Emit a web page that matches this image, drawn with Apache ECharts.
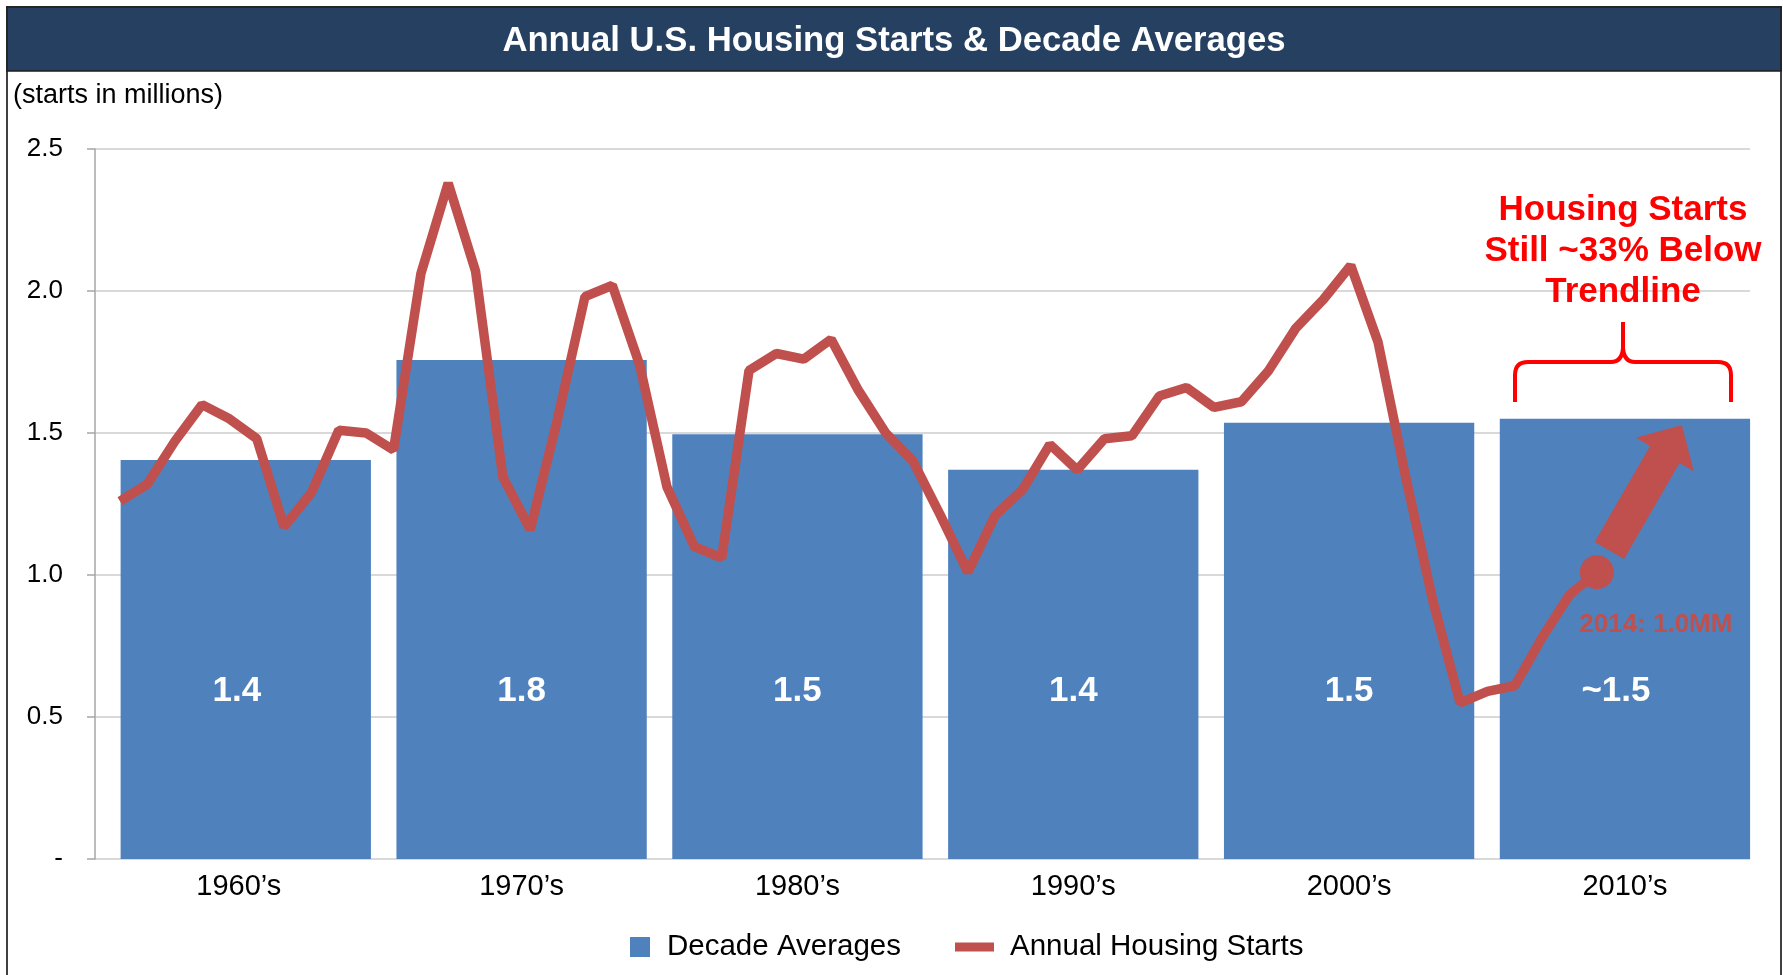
<!DOCTYPE html>
<html>
<head>
<meta charset="utf-8">
<title>Annual U.S. Housing Starts &amp; Decade Averages</title>
<script src="https://cdn.jsdelivr.net/npm/echarts@6/dist/echarts.min.js"></script>
<style>
  html, body { margin: 0; padding: 0; background: #fff; }
  #main { width: 1783px; height: 975px; }
</style>
</head>
<body>
<div id="main"></div>
<script>
// decade bars
var decades = ["1960\u2019s", "1970\u2019s", "1980\u2019s", "1990\u2019s", "2000\u2019s", "2010\u2019s"];
var decadeAvg = [1.405, 1.757, 1.496, 1.371, 1.536, 1.55];
var decadeLabels = ["1.4", "1.8", "1.5", "1.4", "1.5", "~1.5"];

// annual starts (millions)
var years = [1960, 1961, 1962, 1963, 1964, 1965, 1966, 1967, 1968, 1969,
             1970, 1971, 1972, 1973, 1974, 1975, 1976, 1977, 1978, 1979,
             1980, 1981, 1982, 1983, 1984, 1985, 1986, 1987, 1988, 1989,
             1990, 1991, 1992, 1993, 1994, 1995, 1996, 1997, 1998, 1999,
             2000, 2001, 2002, 2003, 2004, 2005, 2006, 2007, 2008, 2009,
             2010, 2011, 2012, 2013, 2014];
var annualStarts = [1.26, 1.32, 1.47, 1.60, 1.55, 1.48, 1.17, 1.29, 1.51, 1.50,
                    1.44, 2.06, 2.38, 2.07, 1.345, 1.16, 1.55, 1.98, 2.02, 1.74,
                    1.31, 1.10, 1.06, 1.72, 1.78, 1.76, 1.83, 1.65, 1.50, 1.40,
                    1.21, 1.01, 1.21, 1.30, 1.46, 1.37, 1.48, 1.49, 1.63, 1.66,
                    1.59, 1.61, 1.72, 1.87, 1.97, 2.09, 1.82, 1.35, 0.91, 0.55,
                    0.59, 0.61, 0.78, 0.93, 1.01];

var lastLabel = "2014: 1.0MM";

var FONT = "'Liberation Sans', Arial, Helvetica, sans-serif";
var BLUE = "#4F81BD", RED = "#C0504D";

var chart = echarts.init(document.getElementById("main"));

var linePts = years.map(function (y, i) { return [y, annualStarts[i]]; });
// first and last labels sit a little left of bar centre in the original
var barData = decadeAvg.map(function (v, i) {
  var off = (i === 0 || i === decadeAvg.length - 1) ? [-9, 0] : [0, 0];
  return { value: v, label: { offset: off } };
});
var catData = decades.map(function (d, i) {
  return i === 0 ? { value: d, textStyle: { padding: [0, 14, 0, 0] } } : d;
});

chart.setOption({
  animation: false,
  textStyle: { fontFamily: FONT },
  grid: [
    { left: 95, right: 33, top: 149, bottom: 116 },
    { left: 107.85, right: 20.15, top: 149, bottom: 116 }
  ],
  xAxis: [
    { type: "value", gridIndex: 0, min: 1959.086, max: 2019.6, show: false },
    {
      type: "category", gridIndex: 1, data: catData,
      axisLine: { show: false }, axisTick: { show: false },
      axisLabel: { fontSize: 29, color: "#000", margin: 13, fontFamily: FONT }
    }
  ],
  yAxis: [
    {
      type: "value", gridIndex: 0, min: 0, max: 2.5, interval: 0.5,
      axisLine: { show: true, lineStyle: { color: "#A6A6A6", width: 1.5 } },
      axisTick: { show: true, length: 8, lineStyle: { color: "#A6A6A6", width: 1.5 } },
      splitLine: { lineStyle: { color: "#D9D9D9", width: 2 } },
      axisLabel: {
        fontSize: 26, color: "#000", margin: 32, fontFamily: FONT,
        formatter: function (v) { return v === 0 ? "-" : v.toFixed(1); }
      }
    },
    { type: "value", gridIndex: 1, min: 0, max: 2.5, show: false }
  ],
  legend: [
    {
      data: [{ name: "Decade Averages", icon: "rect" }],
      left: 630, top: 932, padding: 0, itemWidth: 20, itemHeight: 20,
      textStyle: { fontSize: 29.5, color: "#000", fontFamily: FONT, padding: [0, 0, 0, 12] }
    },
    {
      data: [{ name: "Annual Housing Starts", icon: "rect" }],
      left: 955, top: 932, padding: 0, itemWidth: 39, itemHeight: 9,
      textStyle: { fontSize: 29.5, color: "#000", fontFamily: FONT, padding: [0, 0, 0, 11] }
    }
  ],
  series: [
    {
      name: "Decade Averages", type: "bar", xAxisIndex: 1, yAxisIndex: 1,
      data: barData, barWidth: 250.3,
      itemStyle: { color: BLUE },
      label: {
        show: true, position: "insideBottom", distance: 150,
        color: "#fff", fontSize: 35, fontWeight: "bold", fontFamily: FONT,
        formatter: function (p) { return decadeLabels[p.dataIndex]; }
      },
      z: 2
    },
    {
      name: "Annual Housing Starts", type: "line", xAxisIndex: 0, yAxisIndex: 0,
      data: linePts, symbol: "none", itemStyle: { color: RED },
      lineStyle: { color: RED, width: 9.5 },
      markPoint: {
        symbol: "circle", symbolSize: 34, itemStyle: { color: RED },
        label: { show: false },
        data: [{ coord: linePts[linePts.length - 1] }]
      },
      z: 3
    }
  ]
});

// annotations: frame, banner, titles, brace, arrow
var p0 = chart.convertToPixel({ xAxisIndex: 0, yAxisIndex: 0 }, linePts[linePts.length - 1]);
var ang = 60 * Math.PI / 180;
var ux = Math.cos(ang), uy = -Math.sin(ang);
var nx = -uy, ny = ux;
function ap(s, w) { return [p0[0] + s * ux + w * nx, p0[1] + s * uy + w * ny]; }
var arrowPts = [ap(25, 17), ap(136, 17), ap(136, 33.5), ap(170, 0), ap(136, -33.5), ap(136, -17), ap(25, -17)];

var braceStyle = { stroke: "#FF0000", lineWidth: 4, fill: "none" };
function seg(x1, y1, x2, y2) {
  return { type: "line", z: 11, shape: { x1: x1, y1: y1, x2: x2, y2: y2 }, style: braceStyle };
}
function curve(x1, y1, cx, cy, x2, y2) {
  return { type: "bezierCurve", z: 11,
           shape: { x1: x1, y1: y1, cpx1: cx, cpy1: cy, x2: x2, y2: y2 }, style: braceStyle };
}

var graphics = [
  { type: "rect", shape: { x: 7, y: 7, width: 1774, height: 980 },
    style: { fill: "none", stroke: "#404040", lineWidth: 2 }, z: 10 },
  { type: "rect", shape: { x: 7, y: 7, width: 1774, height: 64 },
    style: { fill: "#254061", stroke: "#1c1c1c", lineWidth: 1.5 }, z: 10 },
  { type: "text", x: 894, y: 41.5, z: 11,
    style: { text: "Annual U.S. Housing Starts & Decade Averages", fill: "#fff",
             font: "bold 34.7px " + FONT, align: "center", verticalAlign: "middle" } },
  { type: "text", x: 13, y: 96, z: 11,
    style: { text: "(starts in millions)", fill: "#000",
             font: "27px " + FONT, align: "left", verticalAlign: "middle" } },
  { type: "text", x: 1623, y: 251, z: 11,
    style: { text: "Housing Starts\nStill ~33% Below\nTrendline", fill: "#FF0000",
             font: "bold 35px " + FONT, lineHeight: 41, align: "center", verticalAlign: "middle" } },
  // brace
  seg(1515, 402, 1515, 375),
  curve(1515, 375, 1515, 362, 1528, 362),
  seg(1528, 362, 1611, 362),
  curve(1611, 362, 1622, 362, 1623, 348),
  seg(1623, 348, 1623, 322),
  curve(1623, 348, 1624, 362, 1635, 362),
  seg(1635, 362, 1718, 362),
  curve(1718, 362, 1731, 362, 1731, 375),
  seg(1731, 375, 1731, 402),
  // arrow
  { type: "polygon", z: 11, shape: { points: arrowPts }, style: { fill: RED } },
  { type: "text", x: p0[0] + 59, y: p0[1] + 53, z: 11,
    style: { text: lastLabel, fill: RED, font: "bold 26px " + FONT,
             align: "center", verticalAlign: "middle" } }
];

chart.setOption({ graphic: graphics });
</script>
</body>
</html>
